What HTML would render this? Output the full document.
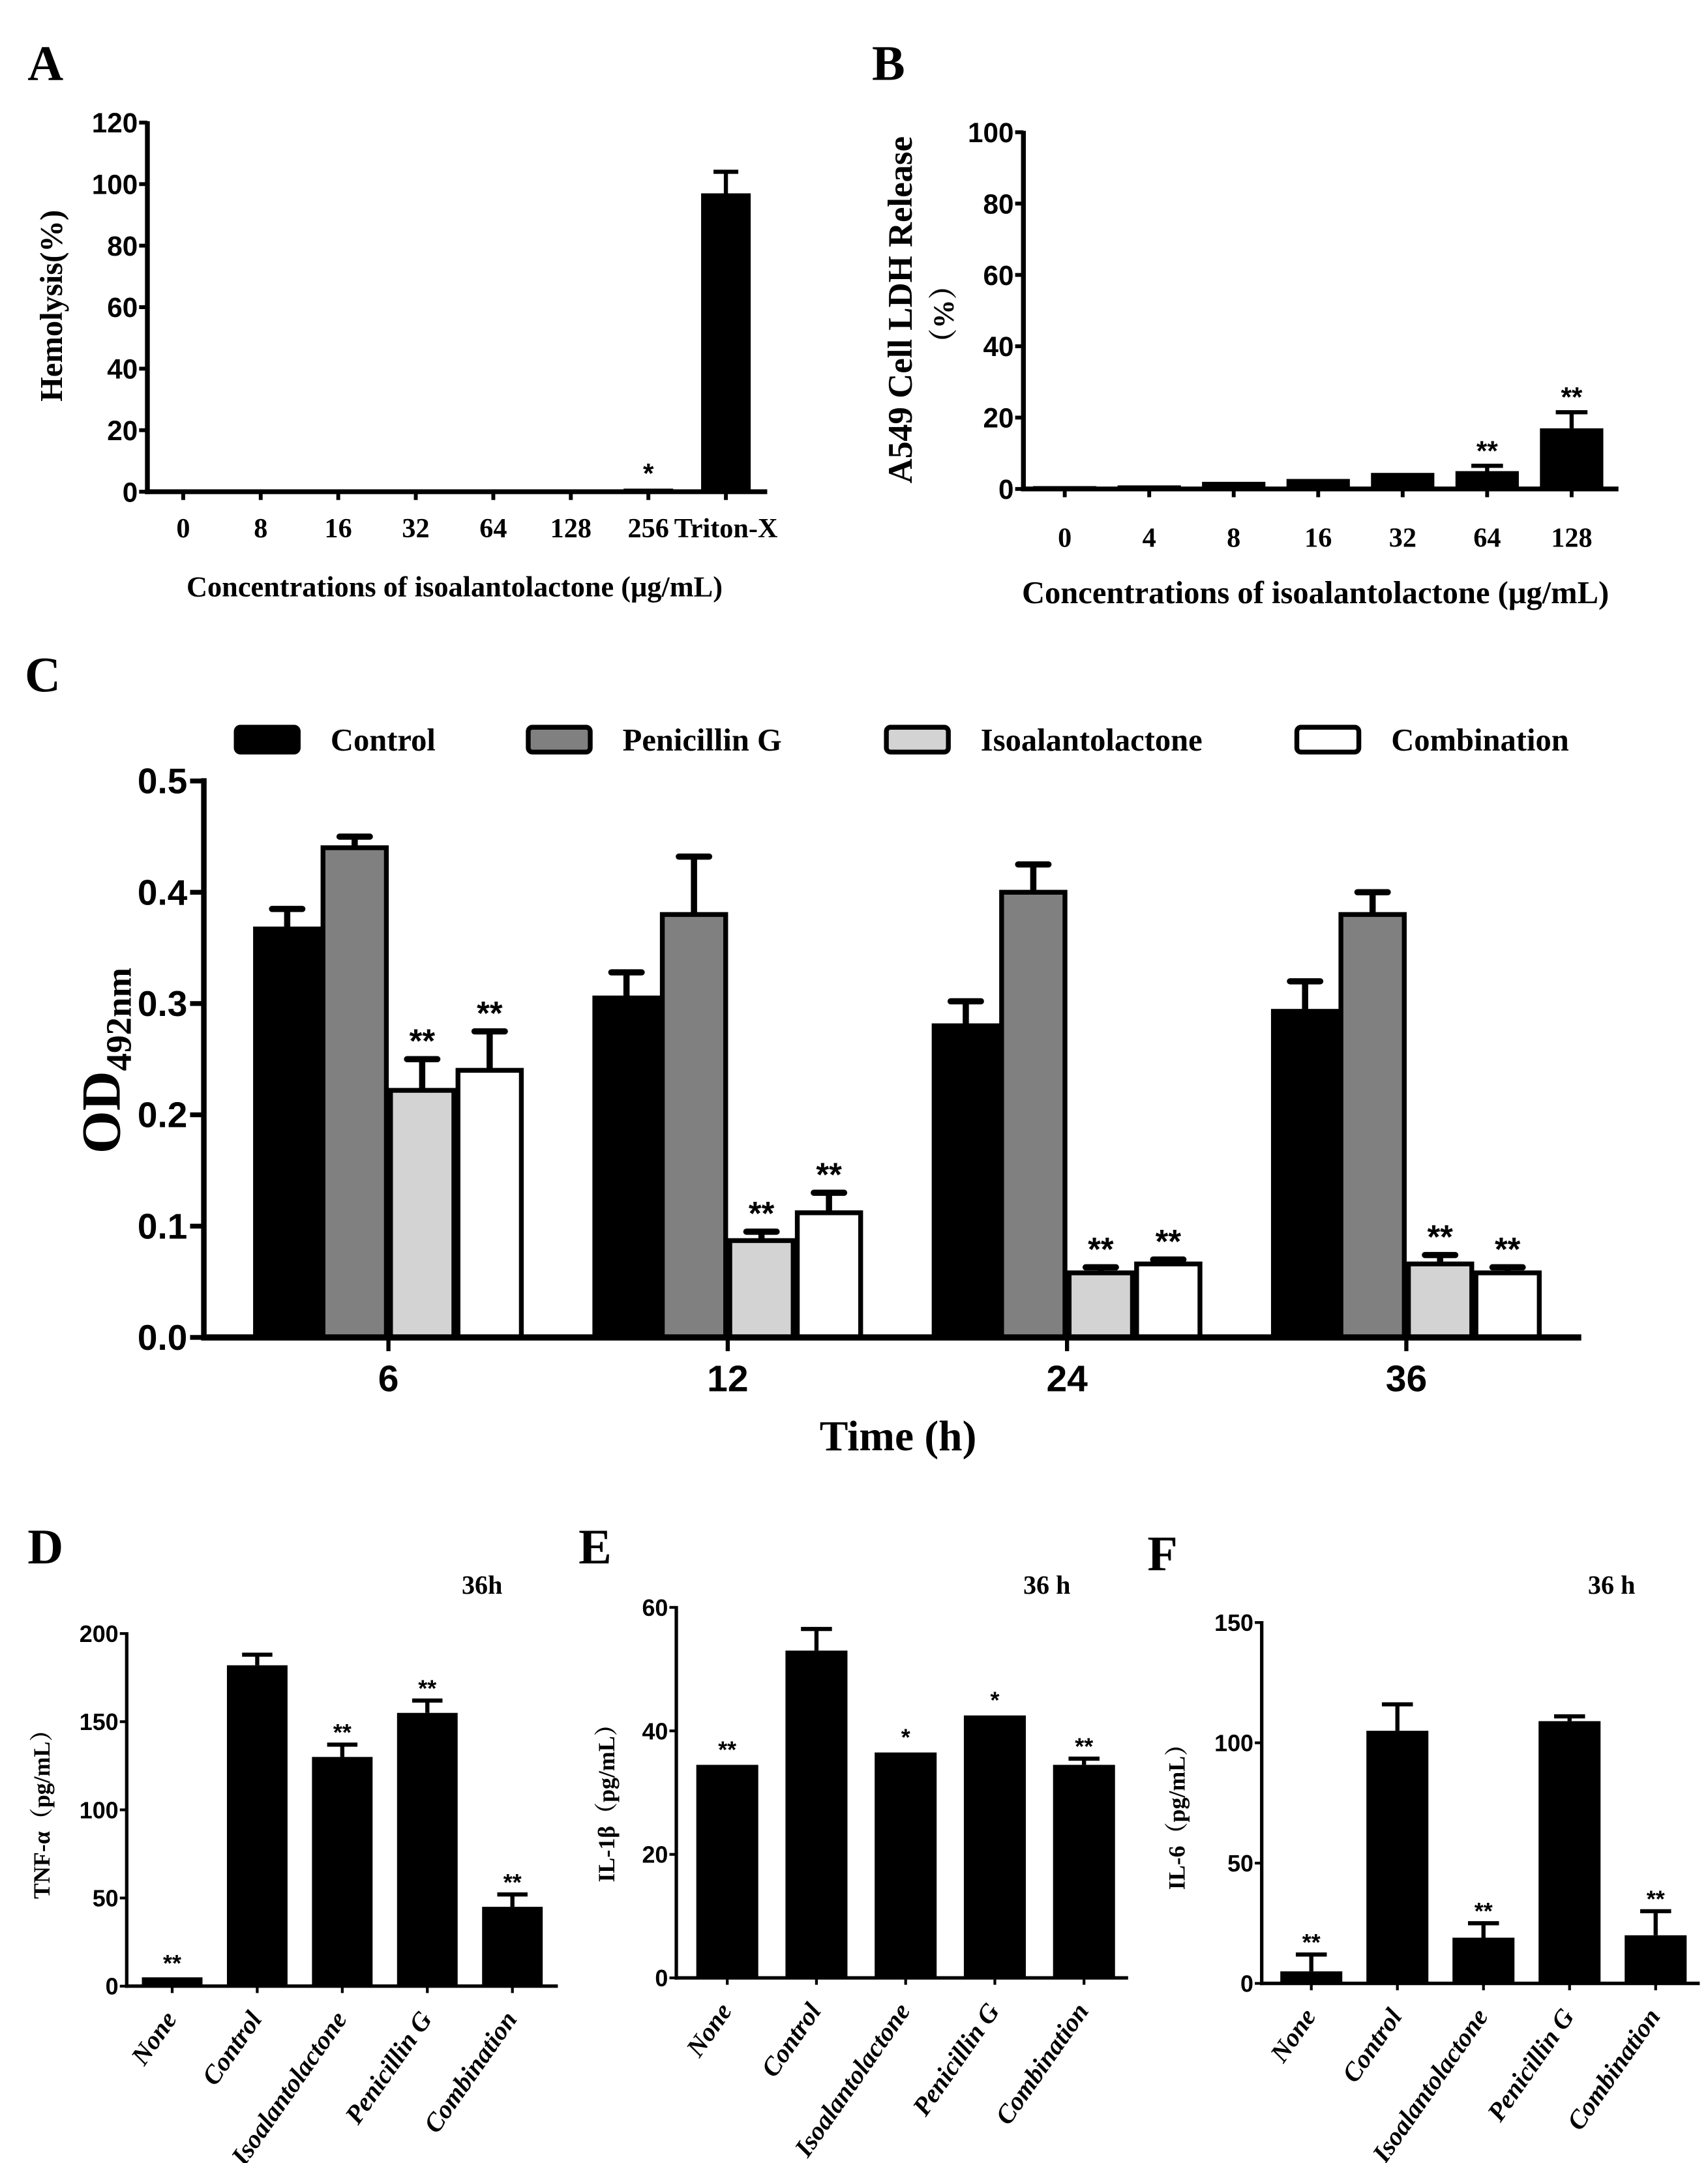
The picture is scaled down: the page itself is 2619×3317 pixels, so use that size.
<!DOCTYPE html>
<html><head><meta charset="utf-8">
<style>
html,body{margin:0;padding:0;background:#fff;}
svg{display:block;}
.serif{font-family:"Liberation Serif","Noto Serif CJK SC",serif;font-weight:bold;}
.sans{font-family:"Liberation Sans","Noto Sans CJK SC",sans-serif;font-weight:bold;}
</style></head>
<body>
<svg id="fig" width="2619" height="3317" viewBox="0 0 1240 1570.4" preserveAspectRatio="none" xmlns="http://www.w3.org/2000/svg">
<text class="serif" x="20" y="58" font-size="36" font-weight="normal">A</text>
<text class="serif" x="633" y="58" font-size="36" font-weight="normal">B</text>
<text class="serif" x="18" y="502" font-size="36" font-weight="normal">C</text>
<text class="serif" x="20" y="1135" font-size="36" font-weight="normal">D</text>
<text class="serif" x="420" y="1135" font-size="36" font-weight="normal">E</text>
<text class="serif" x="833" y="1140" font-size="36" font-weight="normal">F</text>
</svg>
<script>
// Panel A data
const aCats = ["0","8","16","32","64","128","256","Triton-X"];
const aVals = [0.3,0.2,0.3,0.4,0.5,0.4,1,97];
const aErr  = [0.5,0.3,0.5,0.6,0.7,0.6,1.5,104];
const aStars = ["","","","","","","*",""];
const aTicks = [0,20,40,60,80,100,120];
// Panel B data
const bCats = ["0","4","8","16","32","64","128"];
const bVals = [0.8,1,2,2.8,4.5,5,17];
const bErr  = [1,1.3,2.2,3,5.5,6.5,21.5];
const bStars = ["","","","","","**","**"];
const bTicks = [0,20,40,60,80,100];
// Panel C data
const cGroups = ["6","12","24","36"];
const cSeries = ["Control","Penicillin G","Isoalantolactone","Combination"];
const cControl = [0.367,0.305,0.280,0.293];
const cControlErr = [0.385,0.328,0.302,0.320];
const cPen = [0.440,0.380,0.400,0.380];
const cPenErr = [0.450,0.432,0.425,0.400];
const cIso = [0.222,0.087,0.058,0.066];
const cIsoErr = [0.250,0.095,0.063,0.074];
const cComb = [0.240,0.112,0.066,0.058];
const cCombErr = [0.275,0.130,0.070,0.063];
const cTicks = ["0.0","0.1","0.2","0.3","0.4","0.5"];
// Panels D/E/F data
const cytoCats = ["None","Control","Isoalantolactone","Penicillin G","Combination"];
const dVals = [5,182,130,155,45];
const dErr  = [6,188,137,162,52];
const dStars = ["**","","**","**","**"];
const dTicks = [0,50,100,150,200];
const eVals = [34.5,53,36.5,42.5,34.5];
const eErr  = [35,56.5,37,43,35.5];
const eStars = ["**","","*","*","**"];
const eTicks = [0,20,40,60];
const fVals = [5,105,19,109,20];
const fErr  = [12,116,25,111,30];
const fStars = ["**","","**","","**"];
const fTicks = [0,50,100,150];

const NS="http://www.w3.org/2000/svg";
const svg=document.getElementById('fig');
function mk(tag,attrs,parent){const e=document.createElementNS(NS,tag);for(const k in attrs)e.setAttribute(k,attrs[k]);(parent||svg).appendChild(e);return e;}
function txt(s,attrs,parent){const e=mk('text',attrs,parent);e.textContent=s;return e;}

function simplePanel(o){
  const g=mk('g',{});
  
  
  const y=v=>o.y0-(v-o.tmin)/(o.tmax-o.tmin)*(o.y0-o.y1);
  const n=o.cats.length;
  const x=i=>o.xc0+i*(o.xcN-o.xc0)/(n-1);
  for(let i=0;i<n;i++){
    const cx=x(i);
    const b=mk('rect',{x:cx-o.bw/2,y:y(o.vals[i]),width:o.bw,height:Math.max(o.y0-y(o.vals[i]),1.5),fill:'#000'},g);
    
    
    if(o.err[i]>o.vals[i]+0.01*(o.tmax-o.tmin)){
      const eb=mk('path',{d:`M${cx} ${y(o.vals[i])}V${y(o.err[i])}M${cx-o.bw/4} ${y(o.err[i])}H${cx+o.bw/4}`,stroke:'#000','stroke-width':o.ew,fill:'none'},g);
      
      
    }
    if(o.stars[i]){
      const st=txt(o.stars[i],{x:cx,y:y(Math.max(o.err[i],o.vals[i]))-o.starGap,'text-anchor':'middle','font-size':o.starSize,class:'sans','font-weight':'normal'},g);
      
      
    }
    mk('line',{x1:cx,x2:cx,y1:o.y0,y2:o.y0+o.tickLen,stroke:'#000','stroke-width':o.aw*0.8},g);
    let lb;
    if(o.rot){
      lb=txt(o.cats[i],{x:cx+4,y:o.y0+24,'text-anchor':'end','font-size':o.xls,class:'serif','font-style':'italic',transform:`rotate(-55 ${cx+4} ${o.y0+24})`},g);
    } else {
      lb=txt(o.cats[i],{x:cx,y:o.xly,'text-anchor':'middle','font-size':o.xls,class:'serif'},g);
    }
    
    
  }
  mk('line',{x1:o.ax,x2:o.ax,y1:o.y1-1,y2:o.y0+o.aw/2,stroke:'#000','stroke-width':o.aw},g);
  mk('line',{x1:o.ax-o.aw/2,x2:o.xend,y1:o.y0,y2:o.y0,stroke:'#000','stroke-width':o.aw},g);
  for(const t of o.ticks){
    const ty=y(t);
    mk('line',{x1:o.ax-o.tickLen,x2:o.ax,y1:ty,y2:ty,stroke:'#000','stroke-width':o.aw*0.8},g);
    const tl=txt(String(t),{x:o.ax-o.tickLen-1,y:ty+o.yls*0.36,'text-anchor':'end','font-size':o.yls,class:'sans','font-weight':o.ytw||'bold'},g);
    
    
  }
  return g;
}

simplePanel({name:'panel-a-hemolysis-chart',cats:aCats,vals:aVals,err:aErr,stars:aStars,ticks:aTicks,tmin:0,tmax:120,y0:357,y1:89,ax:107,xc0:133,xcN:527,bw:36,xend:557,aw:3.5,ew:3,tickLen:6,xly:390,xls:20,yls:20,starSize:20,starGap:3});
let t=txt('Concentrations of isoalantolactone (μg/mL)',{x:330,y:433,'text-anchor':'middle','font-size':21,class:'serif'});

t=txt('Hemolysis(%)',{x:45,y:222,'text-anchor':'middle','font-size':23,class:'serif',transform:'rotate(-90 45 222)'});


simplePanel({name:'panel-b-ldh-chart',cats:bCats,vals:bVals,err:bErr,stars:bStars,ticks:bTicks,tmin:0,tmax:100,y0:355,y1:96,ax:743,xc0:773,xcN:1141,bw:46,xend:1175,aw:3.5,ew:3,tickLen:6,xly:397,xls:20,yls:20,starSize:20,starGap:4});
t=txt('Concentrations of isoalantolactone (μg/mL)',{x:955,y:438,'text-anchor':'middle','font-size':23,class:'serif'});

t=txt('A549 Cell LDH Release',{x:662,y:225,'text-anchor':'middle','font-size':25,class:'serif',transform:'rotate(-90 662 225)'});

t=txt('（%）',{x:692,y:228,'text-anchor':'middle','font-size':21,class:'serif',transform:'rotate(-90 692 228)'});


(function(){
  const g=mk('g',{});
  
  
  const y0=971,y1=567,ax=148;
  const y=v=>y0-v/0.5*(y0-y1);
  const gc0=282,gcN=1021;
  const gx=i=>gc0+i*(gcN-gc0)/(cGroups.length-1);
  const vals=[cControl,cPen,cIso,cComb], errs=[cControlErr,cPenErr,cIsoErr,cCombErr];
  const fills=['#000','#808080','#d3d3d3','#fff'];
  const bw=49;
  for(let gi=0;gi<cGroups.length;gi++){
    const c=gx(gi);
    for(let s=0;s<4;s++){
      const x0=c-2*bw+s*bw;
      const v=vals[s][gi],e=errs[s][gi];
      const cx=x0+bw/2;
      const eb=mk('path',{d:`M${cx} ${y(v)}V${y(e)}M${cx-11} ${y(e)}H${cx+11}`,stroke:'#000','stroke-width':4.5,fill:'none','stroke-linecap':'round'},g);
      
      
      const b=mk('rect',{x:x0+1.5,y:y(v),width:bw-3,height:y0-y(v),fill:fills[s],stroke:'#000','stroke-width':3.5},g);
      
      
      if(s>=2){
        const st=txt('**',{x:cx,y:y(e)-5,'text-anchor':'middle','font-size':24,class:'sans'},g);
        
        
      }
    }
    mk('line',{x1:c,x2:c,y1:y0,y2:y0+10,stroke:'#000','stroke-width':3},g);
    const lb=txt(cGroups[gi],{x:c,y:1010,'text-anchor':'middle','font-size':27,class:'sans'},g);
    
    
  }
  mk('line',{x1:ax,x2:ax,y1:y1-2,y2:y0,stroke:'#000','stroke-width':4},g);
  mk('line',{x1:ax-2,x2:1148,y1:y0,y2:y0,stroke:'#000','stroke-width':4.5},g);
  for(let i=0;i<cTicks.length;i++){
    const ty=y(parseFloat(cTicks[i]));
    mk('line',{x1:ax-10,x2:ax,y1:ty,y2:ty,stroke:'#000','stroke-width':3.5},g);
    const tl=txt(cTicks[i],{x:ax-12,y:ty+9,'text-anchor':'end','font-size':26,class:'sans'},g);
    
    
  }
  const lx=[170,382,642,940];
  for(let s=0;s<4;s++){
    const r=mk('rect',{x:lx[s]+1.5,y:528,width:45,height:18,rx:3,fill:fills[s],stroke:'#000','stroke-width':3.5},g);
    
    
    const lt=txt(cSeries[s],{x:lx[s]+70,y:545,'font-size':23,class:'serif'},g);
    
    
  }
  const xt=txt('Time (h)',{x:652,y:1053,'text-anchor':'middle','font-size':31,class:'serif'},g);
  
  const yt=mk('text',{x:87,y:770,'text-anchor':'middle','font-size':40,class:'serif',transform:'rotate(-90 87 770)'},g);
  yt.innerHTML='OD<tspan font-size="26" dy="8">492nm</tspan>';
  
})();

simplePanel({name:'panel-d-tnf-chart',cats:cytoCats,vals:dVals,err:dErr,stars:dStars,ticks:dTicks,tmin:0,tmax:200,y0:1442,y1:1186,ax:92,xc0:125,xcN:372,bw:44,xend:405,aw:2.5,ew:3,tickLen:5,rot:true,xls:19,yls:17,ytw:'normal',starSize:17,starGap:3});
t=txt('TNF-α（pg/mL）',{x:36,y:1313,'text-anchor':'middle','font-size':17,class:'serif',transform:'rotate(-90 36 1313)'});

t=txt('36h',{x:350,y:1157,'text-anchor':'middle','font-size':19,class:'serif','font-weight':'normal'});


simplePanel({name:'panel-e-il1b-chart',cats:cytoCats,vals:eVals,err:eErr,stars:eStars,ticks:eTicks,tmin:0,tmax:60,y0:1436,y1:1167,ax:491,xc0:528,xcN:787,bw:45,xend:819,aw:2.5,ew:3,tickLen:5,rot:true,xls:19,yls:17,ytw:'normal',starSize:17,starGap:3});
t=txt('IL-1β（pg/mL）',{x:446,y:1305,'text-anchor':'middle','font-size':17,class:'serif',transform:'rotate(-90 446 1305)'});

t=txt('36 h',{x:760,y:1157,'text-anchor':'middle','font-size':19,class:'serif','font-weight':'normal'});


simplePanel({name:'panel-f-il6-chart',cats:cytoCats,vals:fVals,err:fErr,stars:fStars,ticks:fTicks,tmin:0,tmax:150,y0:1440,y1:1178,ax:916,xc0:952,xcN:1202,bw:45,xend:1234,aw:2.5,ew:3,tickLen:5,rot:true,xls:19,yls:17,ytw:'normal',starSize:17,starGap:3});
t=txt('IL-6（pg/mL）',{x:860,y:1315,'text-anchor':'middle','font-size':17,class:'serif',transform:'rotate(-90 860 1315)'});

t=txt('36 h',{x:1170,y:1157,'text-anchor':'middle','font-size':19,class:'serif','font-weight':'normal'});

</script>
</body></html>
